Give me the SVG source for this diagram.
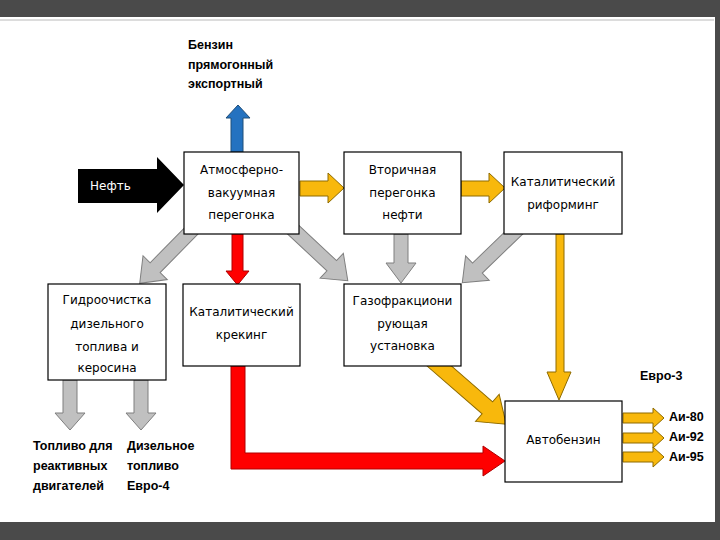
<svg xmlns="http://www.w3.org/2000/svg" width="720" height="540" viewBox="0 0 720 540">
<style>
.box{fill:#fff;stroke:#000;stroke-width:1.2}
.t{font-family:"DejaVu Sans","Liberation Sans",sans-serif;font-size:12px;fill:#000;text-anchor:middle}
.b{font-family:"Liberation Sans","DejaVu Sans",sans-serif;font-size:12.5px;font-weight:bold;fill:#000}
.y{fill:#F8B80C;stroke:#8E6B00;stroke-width:1}
.g{fill:#C0C0C0;stroke:#7F7F7F;stroke-width:1}
.r{fill:#FF0000;stroke:#B00000;stroke-width:1}
.bl{fill:#2472C0;stroke:#1F4E79;stroke-width:1}
</style>
<rect x="0" y="0" width="720" height="540" fill="#fff"/>
<rect x="0" y="0" width="720" height="17" fill="#4a4a4a"/>
<line x1="0" y1="20" x2="714" y2="20" stroke="#dcdcdc" stroke-width="2"/>
<rect x="0" y="522" width="720" height="18" fill="#4a4a4a"/>
<rect x="715" y="0" width="5" height="540" fill="#4a4a4a"/>

<g id="connectors">
  <polygon points="78,169 157,169 157,157 184,185 157,213 157,203 78,203" fill="#000"/>
  <polygon class="bl" points="231,152 231,118 226,118 238,105 250,118 243,118 243,152"/>
  <polygon class="y" points="300,181 328,181 328,173 344,188 328,203 328,196 300,196"/>
  <polygon class="y" points="461,181 489,181 489,173 505,188 489,203 489,196 461,196"/>
  <polygon class="g" transform="translate(200,222) rotate(134.5)" points="0,-7 64,-7 64,-17 86,0 64,17 64,7 0,7"/>
  <polygon class="g" transform="translate(285,222) rotate(43.1)" points="0,-7 64,-7 64,-17 86,0 64,17 64,7 0,7"/>
  <polygon class="g" points="394,234 408,234 408,263 416,263 401,283 386,263 394,263"/>
  <polygon class="g" transform="translate(522,225) rotate(136)" points="0,-7 62,-7 62,-17 83,0 62,17 62,7 0,7"/>
  <polygon class="r" points="232,234 243,234 243,271 249,271 237.5,285 226,271 232,271"/>
  <polygon class="y" points="556,234 564,234 564,372 571,372 559,400 547,372 556,372"/>
  <polygon class="y" transform="translate(430,358) rotate(41)" points="0,-8 76,-8 76,-18 101,0 76,18 76,8 0,8"/>
  <polygon class="r" points="231,366 245,366 245,453 483,453 483,446 505,461 483,476 483,469 231,469"/>
  <polygon class="g" points="63,380 77,380 77,413 85,413 70,430 55,413 63,413"/>
  <polygon class="g" points="134,380 148,380 148,413 156,413 141,430 126,413 134,413"/>
  <polygon class="y" points="623,413 653,413 653,408 664,418 653,428 653,423 623,423"/>
  <polygon class="y" points="623,433 653,433 653,428 664,438 653,448 653,443 623,443"/>
  <polygon class="y" points="623,452 653,452 653,447 664,457 653,467 653,462 623,462"/>
</g>

<text x="90" y="190" font-family="DejaVu Sans, Liberation Sans, sans-serif" font-size="12" fill="#fff">Нефть</text>

<g id="atmos">
  <rect class="box" x="184" y="152" width="115" height="82"/>
  <text class="t" x="241.5" y="174">Атмосферно-</text>
  <text class="t" x="241.5" y="197">вакуумная</text>
  <text class="t" x="241.5" y="219">перегонка</text>
</g>
<g id="vtorichnaya">
  <rect class="box" x="344" y="152" width="117" height="82"/>
  <text class="t" x="402.5" y="174">Вторичная</text>
  <text class="t" x="402.5" y="197">перегонка</text>
  <text class="t" x="402.5" y="219">нефти</text>
</g>
<g id="riforming">
  <rect class="box" x="504" y="152" width="118" height="82"/>
  <text class="t" x="563" y="186">Каталитический</text>
  <text class="t" x="563" y="209">риформинг</text>
</g>
<g id="gidro">
  <rect class="box" x="48" y="284" width="118" height="96"/>
  <text class="t" x="107" y="304">Гидроочистка</text>
  <text class="t" x="107" y="328">дизельного</text>
  <text class="t" x="107" y="351">топлива и</text>
  <text class="t" x="107" y="372">керосина</text>
</g>
<g id="kreking">
  <rect class="box" x="183" y="284" width="117" height="82"/>
  <text class="t" x="241.5" y="316">Каталитический</text>
  <text class="t" x="241.5" y="339">крекинг</text>
</g>
<g id="gazo">
  <rect class="box" x="344" y="284" width="117" height="82"/>
  <text class="t" x="402.5" y="305">Газофракциони</text>
  <text class="t" x="402.5" y="328">рующая</text>
  <text class="t" x="402.5" y="350">установка</text>
</g>
<g id="avto">
  <rect class="box" x="505" y="401" width="117" height="81"/>
  <text class="t" x="563.5" y="444">Автобензин</text>
</g>

<g id="labels">
  <text class="b" x="188" y="49">Бензин</text>
  <text class="b" x="188" y="69">прямогонный</text>
  <text class="b" x="188" y="88">экспортный</text>
  <text class="b" x="33" y="450">Топливо для</text>
  <text class="b" x="33" y="470">реактивных</text>
  <text class="b" x="33" y="490">двигателей</text>
  <text class="b" x="127" y="450">Дизельное</text>
  <text class="b" x="127" y="470">топливо</text>
  <text class="b" x="127" y="490">Евро-4</text>
  <text class="b" x="640" y="380">Евро-3</text>
  <text class="b" x="669" y="421">Аи-80</text>
  <text class="b" x="669" y="441">Аи-92</text>
  <text class="b" x="669" y="461">Аи-95</text>
</g>
</svg>
